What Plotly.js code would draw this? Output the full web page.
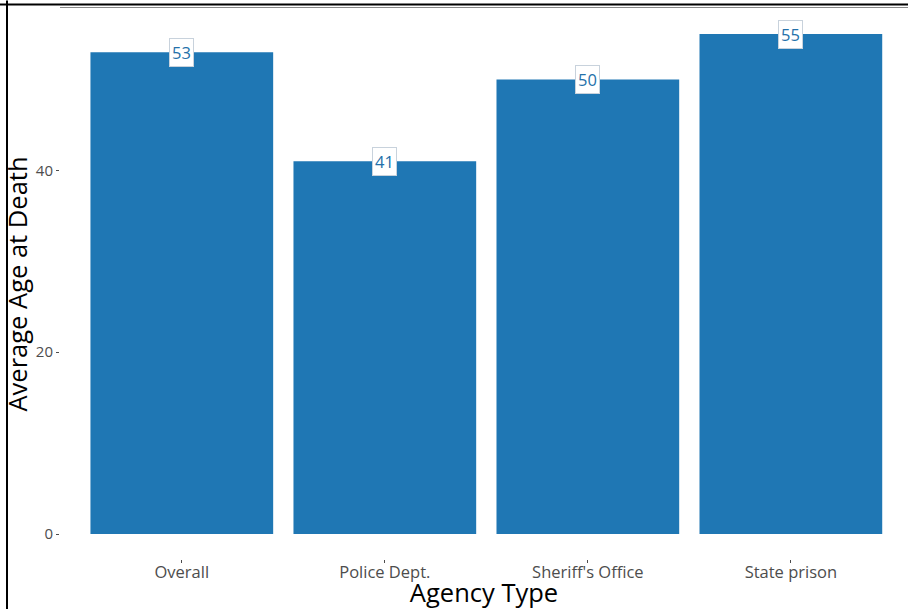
<!DOCTYPE html>
<html><head><meta charset="utf-8">
<script src="https://cdn.plot.ly/plotly-3.0.1.min.js"></script>
<style>html,body{margin:0;padding:0;background:#fff;}#chart{width:908px;height:609px;}</style>
</head><body><div id="chart"></div>
<script>
const categories = ["Overall", "Police Dept.", "Sheriff's Office", "State prison"];
const avgAge = [53, 41, 50, 55];
const labels = ["53", "41", "50", "55"];
const yTicks = [0, 20, 40];

const W = 908, H = 609, L = 60, T = 8.5, B = 50;
const px = v => (v - L) / (W - L);
const py = v => 1 - (v - T) / (H - T - B);

const trace = {
  type: "bar", x: categories, y: avgAge,
  marker: {color: "#1f77b4"}, hoverinfo: "none"
};
const annotations = categories.map((c, i) => ({
  x: c, y: avgAge[i], xref: "x", yref: "y", text: labels[i], showarrow: false,
  font: {family: "Open Sans, sans-serif", size: 16.5, color: "#2471aa"},
  bgcolor: "#ffffff", bordercolor: "#c8d2dc", borderwidth: 1, borderpad: 2,
  xanchor: "center", yanchor: "middle"
}));
const layout = {
  width: W, height: H,
  margin: {l: L, r: 0, t: T, b: B, pad: 0},
  paper_bgcolor: "#fff", plot_bgcolor: "#fff",
  bargap: 0.1, showlegend: false,
  font: {family: "Open Sans, sans-serif"},
  xaxis: {
    range: [-0.6, 3.577], showgrid: false, zeroline: false, showline: false,
    ticks: "outside", ticklen: 3, tickcolor: "#4d4d4d", tickwidth: 1,
    ticklabelstandoff: -5,
    tickfont: {size: 16.5, color: "#4d4d4d"},
    title: {text: "Agency Type", font: {size: 25.5, color: "#000"}},
    automargin: false
  },
  yaxis: {
    range: [-2.75, 57.75], tickvals: yTicks, ticktext: yTicks.map(String),
    showgrid: false, zeroline: false, showline: false,
    ticks: "outside", ticklen: 3, tickcolor: "#4d4d4d", tickwidth: 1,
    tickfont: {size: 15, color: "#4d4d4d"},
    title: {text: "Average Age at Death", font: {size: 25.5, color: "#000"}},
    automargin: false
  },
  annotations: annotations,
  shapes: [
    {type: "line", xref: "paper", yref: "paper", x0: px(0), x1: px(908), y0: py(4), y1: py(4), line: {color: "#000", width: 2}},
    {type: "line", xref: "paper", yref: "paper", x0: px(7), x1: px(7), y0: py(0), y1: py(609), line: {color: "#000", width: 2}},
    {type: "line", xref: "paper", yref: "paper", x0: px(60), x1: px(908), y0: py(7), y1: py(7), line: {color: "#888", width: 1}}
  ]
};
Plotly.newPlot("chart", [trace], layout, {displayModeBar: false, staticPlot: true});
</script></body></html>
